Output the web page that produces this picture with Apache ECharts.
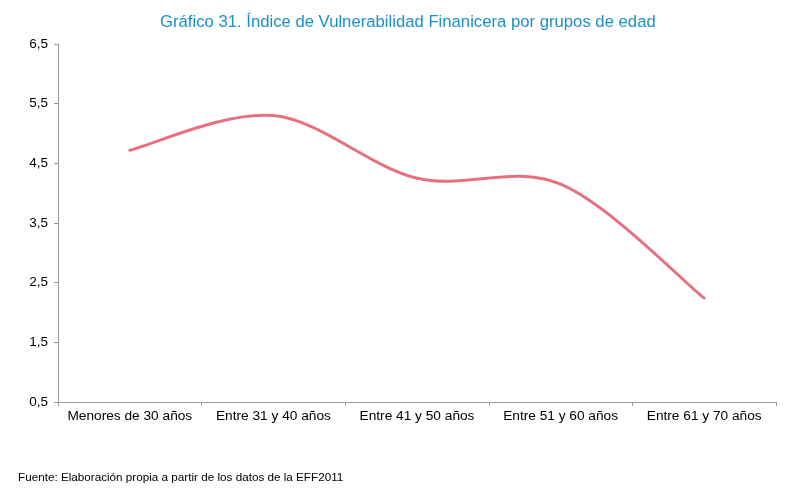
<!DOCTYPE html>
<html>
<head>
<meta charset="utf-8">
<script src="https://cdn.jsdelivr.net/npm/echarts@6/dist/echarts.min.js"></script>
<style>html,body{margin:0;padding:0;background:#fff;}#c{width:801px;height:489px;}</style>
</head>
<body>
<div id="c"></div>
<script>
const categories = ['Menores de 30 años', 'Entre 31 y 40 años', 'Entre 41 y 50 años', 'Entre 51 y 60 años', 'Entre 61 y 70 años'];
const values = [4.72, 5.30, 4.25, 4.15, 2.24];
const yTicks = [0.5, 1.5, 2.5, 3.5, 4.5, 5.5, 6.5];
const titleText = 'Gráfico 31. Índice de Vulnerabilidad Finanicera por grupos de edad';
const sourceText = 'Fuente: Elaboración propia a partir de los datos de la EFF2011';

const FONT = 'Liberation Sans, Arial, sans-serif';
const chart = echarts.init(document.getElementById('c'), null, {renderer: 'canvas'});

// Smooth (Catmull-Rom style) line drawn from the data through the axes' own coordinate mapping
function renderSmooth(params, api) {
  if (params.dataIndex !== 0) return null;
  const pts = values.map((v, i) => api.coord([i, v]));
  const n = pts.length;
  const children = [];
  for (let i = 0; i < n - 1; i++) {
    const p0 = pts[Math.max(i - 1, 0)];
    const p1 = pts[i];
    const p2 = pts[i + 1];
    const p3 = pts[Math.min(i + 2, n - 1)];
    children.push({
      type: 'bezierCurve',
      shape: {
        x1: p1[0], y1: p1[1],
        cpx1: p1[0] + (p2[0] - p0[0]) / 6, cpy1: p1[1] + (p2[1] - p0[1]) / 6,
        cpx2: p2[0] - (p3[0] - p1[0]) / 6, cpy2: p2[1] - (p3[1] - p1[1]) / 6,
        x2: p2[0], y2: p2[1]
      },
      style: {stroke: '#e5717f', lineWidth: 3, fill: null, lineCap: 'round'}
    });
  }
  return {type: 'group', children: children};
}

chart.setOption({
  backgroundColor: '#ffffff',
  animation: false,
  textStyle: {fontFamily: FONT},
  title: [{
    text: titleText,
    left: 155, top: 9,
    textStyle: {color: '#1a8fc9', fontSize: 16.7, fontWeight: 'normal', fontFamily: FONT}
  }, {
    text: sourceText,
    left: 13, top: 467,
    textStyle: {color: '#000', fontSize: 11.7, fontWeight: 'normal', fontFamily: FONT}
  }],
  grid: {left: 58, right: 25, top: 44, bottom: 87, containLabel: false},
  xAxis: {
    type: 'category',
    data: categories,
    boundaryGap: true,
    axisLine: {lineStyle: {color: '#999999', width: 1}},
    axisTick: {show: true, length: 4, lineStyle: {color: '#999999'}},
    axisLabel: {color: '#000', fontSize: 13.7, margin: 7, interval: 0},
    splitLine: {show: false}
  },
  yAxis: {
    type: 'value',
    min: yTicks[0], max: yTicks[yTicks.length - 1], interval: 1,
    axisLine: {show: true, lineStyle: {color: '#999999', width: 1}},
    axisTick: {show: true, length: 4, lineStyle: {color: '#999999'}},
    axisLabel: {color: '#000', fontSize: 13.5, margin: 10, formatter: v => v.toFixed(1).replace('.', ',')},
    splitLine: {show: false}
  },
  series: [{
    type: 'custom',
    data: values.map((v, i) => [i, v]),
    encode: {x: 0, y: 1},
    renderItem: renderSmooth,
    clip: false
  }]
});
</script>
</body>
</html>
